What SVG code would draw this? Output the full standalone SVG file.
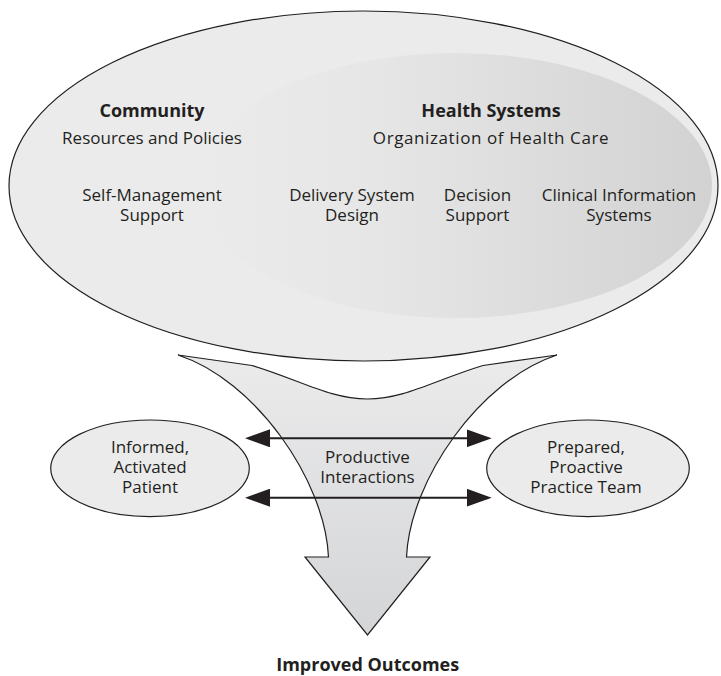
<svg xmlns="http://www.w3.org/2000/svg" width="721" height="676" viewBox="0 0 721 676">
<style>
.t{font-family:"Open Sans","Noto Sans","Liberation Sans",sans-serif;font-size:17px;fill:#231f20;text-anchor:middle}
.b{font-weight:bold;font-size:18px}
.shape{stroke:#231f20;stroke-width:1.2}
.conn{stroke:#231f20;stroke-width:2;fill:none}
</style>
<defs>
<linearGradient id="inner" x1="0" y1="0" x2="1" y2="0">
<stop offset="0" stop-color="#ebebec"/>
<stop offset="0.35" stop-color="#e6e6e7"/>
<stop offset="1" stop-color="#d2d2d3"/>
</linearGradient>
<linearGradient id="funnel" x1="0" y1="0" x2="0" y2="1">
<stop offset="0" stop-color="#ebebec"/>
<stop offset="1" stop-color="#d4d5d7"/>
</linearGradient>
<marker id="ah" viewBox="0 0 25 18" refX="20" refY="9" markerWidth="25" markerHeight="18" markerUnits="userSpaceOnUse" orient="auto-start-reverse">
<path d="M0,0 L25,9 L0,18 z" fill="#231f20"/>
</marker>
</defs>

<g id="system">
<ellipse class="shape" cx="363.5" cy="186" rx="354.5" ry="175" fill="#ebebec"/>
<ellipse cx="455" cy="185.5" rx="257" ry="132.5" fill="url(#inner)"/>
<text class="t b" x="152" y="117">Community</text>
<text class="t" x="152" y="144">Resources and Policies</text>
<text class="t b" x="491" y="117">Health Systems</text>
<text class="t" x="491" y="144" letter-spacing="0.6">Organization of Health Care</text>
<text class="t" x="152" y="201">Self-Management</text>
<text class="t" x="152" y="221">Support</text>
<text class="t" x="352" y="201">Delivery System</text>
<text class="t" x="352" y="221">Design</text>
<text class="t" x="477.5" y="201">Decision</text>
<text class="t" x="477.5" y="221">Support</text>
<text class="t" x="619" y="201">Clinical Information</text>
<text class="t" x="619" y="221">Systems</text>
</g>

<g id="funnel-arrow">
<path class="shape" fill="url(#funnel)" d="M178,355 L252,365.5 C300,380 330,399 367.5,399 C405,399 435,380 483,365.5 L557,355 C480,380 410,480 406.5,557 L430,557 L367.5,635 L305,557 L328.5,557 C325,480 255,380 178,355 Z"/>
<text class="t" x="367.5" y="463">Productive</text>
<text class="t" x="367.5" y="483">Interactions</text>
</g>

<g id="patient">
<ellipse class="shape" cx="150" cy="468.3" rx="99.3" ry="48.3" fill="#ebebec"/>
<text class="t" x="150" y="452.7">Informed,</text>
<text class="t" x="150" y="472.7">Activated</text>
<text class="t" x="150" y="492.7">Patient</text>
</g>

<g id="team">
<ellipse class="shape" cx="588" cy="468.3" rx="101.3" ry="48.3" fill="#ebebec"/>
<text class="t" x="586" y="452.7">Prepared,</text>
<text class="t" x="586" y="472.7">Proactive</text>
<text class="t" x="586" y="492.7">Practice Team</text>
</g>

<g id="outcomes">
<text class="t b" x="367.7" y="671">Improved Outcomes</text>
</g>

<g id="connectors">
<line class="conn" x1="250" y1="438.3" x2="486.7" y2="438.3" marker-start="url(#ah)" marker-end="url(#ah)"/>
<line class="conn" x1="250" y1="497.7" x2="486.7" y2="497.7" marker-start="url(#ah)" marker-end="url(#ah)"/>
</g>
</svg>
